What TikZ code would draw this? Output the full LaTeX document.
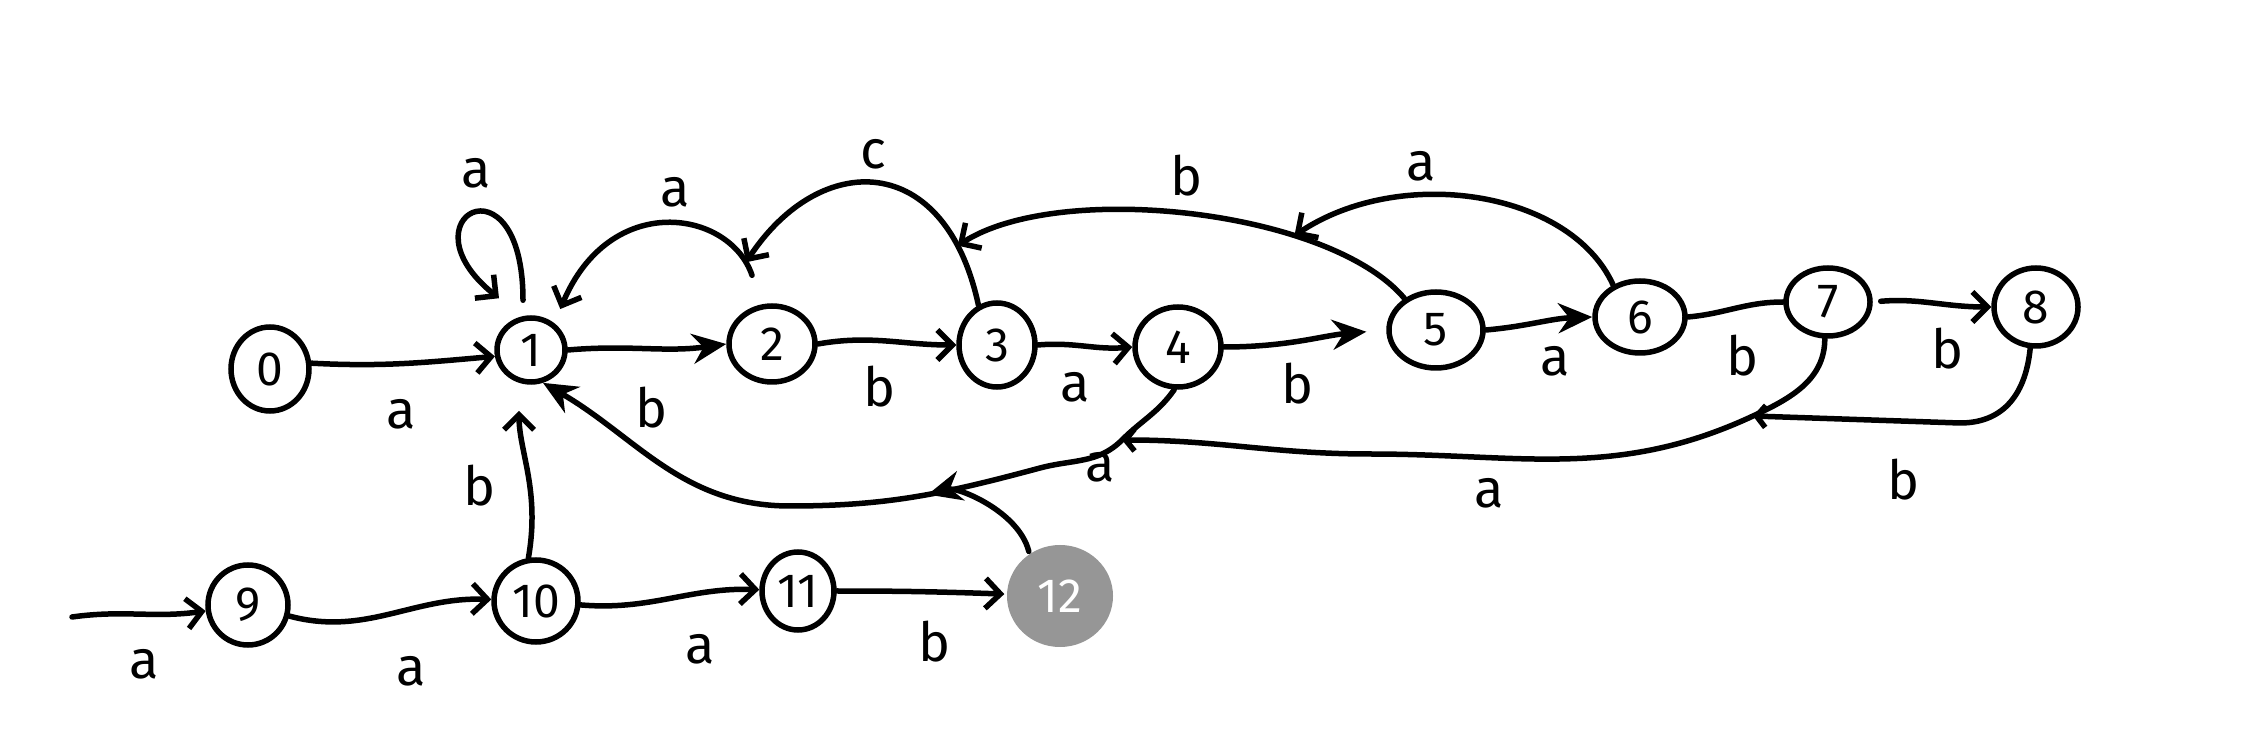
\documentclass[tikz,border=0pt]{standalone}
\usepackage{fontspec}
\setsansfont{Fira Sans}
\usetikzlibrary{arrows.meta,shapes.geometric}
\definecolor{stgray}{RGB}{150,150,150}
\begin{document}
\begin{tikzpicture}[x=1pt,y=1pt,
  st/.style={draw,ellipse,line width=5.5pt,inner sep=0pt,font=\sffamily\fontsize{48}{52}\selectfont},
  lab/.style={font=\sffamily\fontsize{54}{60}\selectfont},
  ln/.style={line width=5.5pt,line cap=round,line join=round},
  barb/.style={ln,-{Straight Barb[length=15pt,width=30pt]}},
  smallbarb/.style={ln,-{Straight Barb[length=9pt,width=22pt]}},
  fillarrow/.style={ln,-{Stealth[length=34pt,width=30pt]}}
]
\useasboundingbox[fill=white] (0,0) rectangle (2262,750);

% states
\node[st,minimum width=78pt,minimum height=84pt] (n0) at (270,381) {0};
\node[st,minimum width=68pt,minimum height=64pt] (n1) at (531,400) {1};
\node[st,minimum width=86pt,minimum height=76pt] (n2) at (772,406) {2};
\node[st,minimum width=76pt,minimum height=84pt] (n3) at (997,405) {3};
\node[st,minimum width=86pt,minimum height=80pt] (n4) at (1178,403) {4};
\node[st,minimum width=94pt,minimum height=76pt] (n5) at (1436,420) {5};
\node[st,minimum width=90pt,minimum height=72pt] (n6) at (1640,433) {6};
\node[st,minimum width=84pt,minimum height=68pt] (n7) at (1828,448) {7};
\node[st,minimum width=84pt,minimum height=78pt] (n8) at (2036,443) {8};
\node[st,minimum width=80pt,minimum height=80pt] (n9) at (248,145) {9};
\node[st,minimum width=84pt,minimum height=82pt] (n10) at (536,149) {10};
\node[st,minimum width=72pt,minimum height=78pt] (n11) at (798,159) {11};
\node[st,draw=none,fill=stgray,text=white,minimum width=106pt,minimum height=102pt] (n12) at (1060,154) {12};

% free ends and junctions
\coordinate (s9) at (72,133);
\coordinate (j4) at (1122,310);
\coordinate (q1) at (1040,282);
\coordinate (q2) at (790,244);
\coordinate (j7) at (1753,334);
\coordinate (m7) at (1370,296);
\coordinate (m8) at (1960,327);

% bottom row
\draw[barb] (s9) to[out=8,in=188] (n9);
\draw[barb] (n9) to[out=-15,in=178] (n10);
\draw[barb] (n10) to[out=-5,in=178] (n11);
\draw[barb] (n11) to[out=0,in=178] (n12);

% top row
\draw[barb] (n0.8) to[out=-3,in=185] (n1.190);
\draw[fillarrow] (n1.east) to[out=5,in=188] (n2.west);
\draw[barb] (n2.east) to[out=10,in=180] (n3.west);
\draw[barb] (n3.east) to[out=5,in=185] (n4.west);
\draw[fillarrow,shorten >=20pt] (n4.east) to[out=0,in=185] (n5.west);
\draw[fillarrow] (n5.east) to[out=5,in=182] (n6.west);
\draw[ln] (n6.east) to[out=5,in=180] (n7.west);
\draw[barb,shorten <=8pt] (n7.east) to[out=5,in=180] (n8.west);

% self loop on 1
\draw[barb] ([shift={(-8,15)}]n1.north) .. controls +(0,150) and +(-100,80) .. ([shift={(-32,17)}]n1.north);

% upper arcs
\draw[barb] ([shift={(-20,28)}]n2.north) .. controls (730,540) and (610,560) .. ([shift={(9,12)}]n1.55) coordinate[pos=0.07] (j2);
\draw[barb] (n3.115) .. controls (945,600) and (820,600) .. (j2) coordinate[pos=0.15] (j3);
\draw[barb] (n5.135) .. controls (1330,540) and (1060,570) .. (j3) coordinate[pos=0.3] (j5);
\draw[barb] (n6.130) .. controls (1570,560) and (1400,585) .. (j5);

% lower return paths
\draw[fillarrow] (n4.265) to[out=-125,in=45] (j4) to[out=225,in=15] (q1)
  to[out=195,in=0] coordinate[pos=0.45] (c12) (q2) to[out=180,in=-30] (n1.-70);
\draw[smallbarb] (n7.265) to[out=-90,in=25] (j7) to[out=205,in=0] (m7) to[out=180,in=0] (j4);
\draw[smallbarb] (n8.262) .. controls +(-5,-50) and +(40,0) .. (m8) -- (j7);
\draw[fillarrow] (n12.125) .. controls +(-10,40) and +(30,8) .. (c12);
\draw[barb,shorten >=28pt] (n10.100) to[out=80,in=-90] (n1.250);

% labels
\node[lab] (la1) at (476,577) {a};
\node[lab] (la2) at (675,558) {a};
\node[lab] (la3) at (873,596) {c};
\node[lab] (la4) at (1187,574) {b};
\node[lab] (la5) at (1421,584) {a};
\node[lab] (la6) at (401,336) {a};
\node[lab] (la7) at (652,342) {b};
\node[lab] (la8) at (880,363) {b};
\node[lab] (la9) at (1075,363) {a};
\node[lab] (la10) at (1298,366) {b};
\node[lab] (la11) at (1555,389) {a};
\node[lab] (la12) at (1743,394) {b};
\node[lab] (la13) at (1948,401) {b};
\node[lab] (la14) at (480,264) {b};
\node[lab] (la15) at (1100,283) {a};
\node[lab] (la16) at (1489,257) {a};
\node[lab] (la17) at (1904,270) {b};
\node[lab] (la18) at (144,86) {a};
\node[lab] (la19) at (411,79) {a};
\node[lab] (la20) at (700,101) {a};
\node[lab] (la21) at (935,108) {b};
\end{tikzpicture}
\end{document}
